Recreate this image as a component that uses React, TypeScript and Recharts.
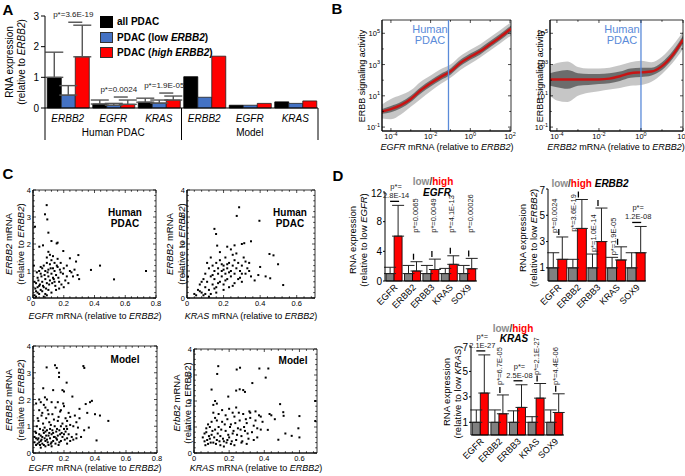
import React from "react";
import {
  Area,
  Bar,
  BarChart,
  ComposedChart,
  ErrorBar,
  LabelList,
  Line,
  ReferenceArea,
  ReferenceLine,
  Scatter,
  ScatterChart,
  XAxis,
  YAxis,
} from "recharts";

const FONT = "'Liberation Sans', Arial, Helvetica, sans-serif";
const BLUE = "#4472c4";
const RED = "#ff0000";
const GRAY = "#808080";
const PDAC_BLUE = "#5b8bd9";
const FIT_RED = "#c81414";

// ---------- A: RNA expression, human vs model ----------
const A_KEYS = ["h-ERBB2", "h-EGFR", "h-KRAS", "m-ERBB2", "m-EGFR", "m-KRAS"];
const A_GENES = ["ERBB2", "EGFR", "KRAS", "ERBB2", "EGFR", "KRAS"];
const A_GROUPS = ["Human PDAC", "Model"];
const A_ALL = [1.0, 0.13, 0.19, 1.02, 0.09, 0.2];
const A_LOW = [0.42, 0.09, 0.16, 0.35, 0.09, 0.15];
const A_HIGH = [1.67, 0.12, 0.26, 1.69, 0.15, 0.23];
const A_ALL_TOP = [1.82, 0.26, 0.32, null, null, null];
const A_LOW_TOP = [0.73, 0.15, 0.26, null, null, null];
const A_HIGH_TOP = [2.7, 0.26, 0.39, null, null, null];
const A_PVALS = ["p*=3.6E-19", "p*=0.0024", "p*=1.9E-05", "", "", ""];
const A_TICKS = [0, 0.5, 1, 1.5, 2, 2.5, 3];

// ---------- B: signaling activity vs mRNA (log10 values) ----------
const B1_X = [-4.45, -4, -3.5, -3, -2.5, -2, -1.5, -1, -0.5, 0, 0.5, 1, 1.5, 2.05];
const B1_FIT = [0.0, 0.15, 0.4, 0.8, 1.35, 1.8, 2.2, 2.55, 3.1, 3.5, 3.85, 4.3, 4.75, 5.3];
const B1_LO = [-0.45, -0.5, -0.2, 0.3, 0.8, 1.3, 1.75, 2.15, 2.65, 3.05, 3.45, 3.9, 4.35, 4.85];
const B1_HI = [0.45, 0.8, 1.05, 1.35, 1.9, 2.3, 2.7, 3.0, 3.55, 3.95, 4.3, 4.75, 5.2, 5.7];
const B1_CORE_LO = [-0.15, -0.05, 0.2, 0.6, 1.15, 1.6, 2.0, 2.35, 2.9, 3.3, 3.65, 4.1, 4.55, 5.1];
const B1_CORE_HI = [0.15, 0.35, 0.6, 1.0, 1.55, 2.0, 2.4, 2.75, 3.3, 3.7, 4.05, 4.5, 4.95, 5.5];
const B1_PDAC = -1.1;

const B2_X = [-4.33, -4, -3.5, -3, -2.5, -2, -1.5, -1, -0.5, 0, 0.5, 1, 1.5, 2.0];
const B2_FIT = [2.05, 2.05, 2.05, 2.05, 2.05, 2.05, 2.1, 2.25, 2.45, 2.5, 2.55, 2.9, 3.6, 4.6];
const B2_LO = [1.0, 0.7, 0.6, 1.0, 1.2, 1.3, 1.4, 1.5, 1.65, 1.7, 1.9, 2.4, 3.1, 4.0];
const B2_HI = [2.9, 3.1, 3.2, 2.85, 2.75, 2.75, 2.8, 2.95, 3.15, 3.25, 3.15, 3.5, 4.2, 5.1];
const B2_CORE_LO = [1.65, 1.55, 1.45, 1.65, 1.7, 1.75, 1.8, 1.95, 2.15, 2.2, 2.3, 2.65, 3.35, 4.35];
const B2_CORE_HI = [2.45, 2.55, 2.65, 2.45, 2.4, 2.4, 2.45, 2.55, 2.75, 2.8, 2.8, 3.15, 3.85, 4.85];
const B2_PDAC = 0;

const B_XTICKS = [-4, -3, -2, -1, 0, 1, 2];
const B_XLABELS = [-4, -2, 0, 2];
const B_YTICKS = [-1, 0, 1, 2, 3, 4, 5];
const B_YLABELS = [-1, 1, 3, 5];

// ---------- C: per-sample scatter ----------
const C_XTICKS_08 = [0, 0.04, 0.08, 0.12, 0.16, 0.2, 0.24, 0.28, 0.32, 0.36, 0.4, 0.44, 0.48, 0.52, 0.56, 0.6, 0.64, 0.68, 0.72, 0.76, 0.8];
const C_XTICKS_07 = [0, 0.04, 0.08, 0.12, 0.16, 0.2, 0.24, 0.28, 0.32, 0.36, 0.4, 0.44, 0.48, 0.52, 0.56, 0.6, 0.64, 0.68];
const C_XLABELS = [0, 0.2, 0.4, 0.6, 0.8];
const C_YTICKS = [0, 0.2, 0.4, 0.6, 0.8, 1, 1.2, 1.4, 1.6, 1.8, 2, 2.2, 2.4, 2.6, 2.8, 3, 3.2, 3.4, 3.6, 3.8, 4];
const C_YLABELS = [0, 1, 2, 3, 4];

const C1_PTS = [
  [0.089, 3.44], [0.078, 3.1], [0.093, 2.91], [0.1, 2.42], [0.013, 2.64], [0.12, 2.11], [0.154, 2.02],
  [0.041, 1.9], [0.197, 1.74], [0.1, 1.71], [0.295, 1.59], [0.24, 1.47], [0.377, 1.04], [0.436, 1.2],
  [0.527, 0.69], [0.735, 1.0], [0.16, 2.05], [0.065, 1.95], [0.28, 1.35], [0.29, 0.85], [0.3, 0.7],
  [0.25, 0.95], [0.22, 0.8], [0.2, 1.1], [0.27, 1.05],
  [0.01, 0.1], [0.02, 0.05], [0.03, 0.2], [0.015, 0.35], [0.04, 0.45], [0.05, 0.3], [0.06, 0.6],
  [0.02, 0.55], [0.07, 0.4], [0.08, 0.7], [0.09, 0.55], [0.1, 0.8], [0.11, 0.65], [0.12, 0.9],
  [0.13, 0.75], [0.14, 1.0], [0.15, 0.85], [0.16, 1.15], [0.17, 0.6], [0.18, 0.95], [0.05, 0.9],
  [0.06, 1.1], [0.07, 1.2], [0.08, 1.0], [0.09, 1.3], [0.1, 1.05], [0.11, 1.25], [0.12, 1.4],
  [0.13, 1.1], [0.14, 1.3], [0.03, 0.75], [0.04, 1.0], [0.05, 1.15], [0.025, 0.95], [0.035, 0.65],
  [0.045, 0.5], [0.055, 0.8], [0.065, 0.45], [0.075, 0.85], [0.085, 0.35], [0.095, 0.95], [0.105, 0.5],
  [0.115, 1.1], [0.125, 0.55], [0.135, 0.7], [0.145, 0.45], [0.155, 1.2], [0.165, 0.75], [0.175, 1.05],
  [0.185, 0.5], [0.195, 0.9], [0.21, 0.65], [0.23, 0.55], [0.26, 0.8], [0.02, 0.25], [0.03, 0.4],
  [0.06, 0.25], [0.08, 0.15], [0.1, 0.3], [0.12, 0.2], [0.15, 0.3], [0.01, 0.6], [0.005, 1.2],
  [0.09, 0.1], [0.17, 0.35], [0.2, 0.4], [0.04, 0.15], [0.07, 0.05], [0.13, 1.55], [0.11, 1.6],
  [0.16, 1.45], [0.09, 1.5], [0.18, 1.3], [0.22, 1.2], [0.24, 1.0], [0.14, 0.6],
];
const C2_PTS = [
  [0.285, 3.36], [0.272, 3.04], [0.396, 2.86], [0.15, 2.56], [0.159, 2.37], [0.35, 2.1], [0.313, 2.03],
  [0.3, 2.0], [0.165, 1.94], [0.22, 1.9], [0.26, 1.95], [0.451, 1.63], [0.473, 1.58], [0.498, 1.25],
  [0.526, 0.48], [0.455, 0.73], [0.39, 0.85], [0.4, 1.15], [0.37, 0.65], [0.43, 0.8], [0.005, 0.79],
  [0.05, 0.1],
  [0.06, 0.3], [0.07, 0.5], [0.08, 0.2], [0.09, 0.7], [0.1, 0.4], [0.1, 0.9], [0.11, 0.6], [0.12, 1.1],
  [0.12, 0.3], [0.13, 0.8], [0.14, 1.2], [0.14, 0.5], [0.15, 1.0], [0.15, 0.7], [0.16, 1.3], [0.16, 0.4],
  [0.17, 0.9], [0.17, 1.1], [0.18, 0.6], [0.18, 1.4], [0.19, 0.8], [0.19, 1.0], [0.2, 1.2], [0.2, 0.5],
  [0.21, 0.9], [0.21, 1.5], [0.22, 0.7], [0.22, 1.1], [0.23, 1.3], [0.23, 0.4], [0.24, 1.0], [0.24, 0.8],
  [0.25, 1.2], [0.25, 1.6], [0.26, 0.9], [0.26, 1.4], [0.27, 1.1], [0.28, 0.7], [0.28, 1.3], [0.29, 1.0],
  [0.3, 1.2], [0.3, 0.6], [0.31, 1.5], [0.32, 0.9], [0.33, 1.1], [0.34, 1.3], [0.35, 0.8], [0.12, 0.05],
  [0.09, 0.1], [0.04, 0.15], [0.13, 0.15], [0.16, 0.2], [0.2, 0.3], [0.11, 1.3], [0.13, 1.5], [0.18, 1.7],
  [0.24, 1.8], [0.27, 1.65], [0.19, 1.25], [0.17, 0.55], [0.15, 0.35], [0.21, 0.65], [0.23, 0.95],
  [0.26, 0.55], [0.29, 0.75], [0.32, 1.35], [0.08, 0.6], [0.07, 0.25], [0.1, 0.15], [0.14, 0.85],
  [0.2, 1.05], [0.25, 0.45], [0.3, 0.9], [0.34, 1.0], [0.22, 1.25],
];
const C3_PTS = [
  [0.088, 3.2], [0.142, 3.28], [0.153, 3.18], [0.168, 3.0], [0.168, 2.84], [0.331, 3.18], [0.325, 3.25],
  [0.217, 2.63], [0.066, 2.42], [0.2, 2.3], [0.13, 2.35], [0.19, 2.35], [0.077, 2.08], [0.254, 2.11],
  [0.34, 1.83], [0.368, 1.9], [0.38, 1.95], [0.486, 1.2], [0.432, 1.4], [0.41, 0.47], [0.3, 1.65],
  [0.35, 1.5], [0.4, 1.45], [0.31, 0.6], [0.33, 0.85], [0.36, 0.95], [0.28, 0.7], [0.3, 1.3],
  [0.28, 0.55], [0.25, 0.6], [0.22, 0.55], [0.02, 1.85], [0.05, 1.9], [0.04, 2.0],
  [0.01, 0.4], [0.02, 0.55], [0.03, 0.35], [0.04, 0.7], [0.05, 0.45], [0.06, 0.6], [0.07, 0.3],
  [0.08, 0.8], [0.09, 0.5], [0.1, 0.65], [0.11, 0.9], [0.12, 0.4], [0.13, 0.75], [0.14, 1.0],
  [0.15, 0.55], [0.16, 1.2], [0.17, 0.85], [0.18, 0.45], [0.19, 1.1], [0.2, 0.7], [0.21, 1.3],
  [0.22, 0.9], [0.23, 1.5], [0.24, 1.05], [0.015, 0.8], [0.025, 1.0], [0.035, 1.2], [0.045, 0.9],
  [0.055, 1.4], [0.065, 1.1], [0.075, 0.95], [0.085, 1.3], [0.095, 1.6], [0.105, 1.15], [0.115, 0.35],
  [0.125, 1.45], [0.135, 0.6], [0.145, 1.7], [0.155, 0.9], [0.165, 0.3], [0.175, 1.55], [0.185, 0.75],
  [0.195, 1.85], [0.205, 0.5], [0.215, 1.0], [0.02, 0.3], [0.03, 0.5], [0.04, 0.4], [0.05, 0.65],
  [0.06, 0.35], [0.07, 0.75], [0.08, 0.45], [0.09, 0.85], [0.1, 0.3], [0.11, 0.55], [0.12, 0.7],
  [0.13, 0.45], [0.14, 0.6], [0.15, 0.8], [0.16, 0.65], [0.17, 0.4], [0.18, 1.0], [0.19, 0.6],
  [0.2, 0.9], [0.21, 0.8], [0.22, 1.2], [0.23, 0.7], [0.24, 1.35], [0.26, 1.0], [0.27, 1.4],
  [0.28, 1.15], [0.29, 0.95], [0.01, 0.6], [0.02, 0.75], [0.035, 0.55], [0.045, 0.3], [0.055, 0.5],
  [0.065, 0.85], [0.075, 0.55], [0.085, 0.65], [0.095, 0.4], [0.105, 0.75], [0.115, 1.05], [0.125, 0.85],
  [0.135, 1.25], [0.145, 0.35], [0.155, 0.5], [0.165, 1.35], [0.175, 0.7], [0.06, 1.5], [0.08, 1.7],
  [0.1, 1.45], [0.12, 1.9], [0.03, 1.3], [0.04, 1.6], [0.07, 1.8], [0.09, 2.0], [0.16, 1.9],
  [0.18, 1.6], [0.2, 1.75], [0.22, 0.35], [0.24, 0.45], [0.26, 0.5], [0.12, 0.25], [0.08, 0.25],
  [0.05, 0.2],
];
const C4_PTS = [
  [0.138, 3.34], [0.132, 3.04], [0.243, 3.21], [0.262, 3.28], [0.372, 3.25], [0.423, 3.25], [0.408, 2.9],
  [0.332, 2.69], [0.24, 2.4], [0.26, 2.45], [0.28, 2.42], [0.1, 2.44], [0.195, 2.17], [0.49, 1.88],
  [0.508, 1.57], [0.51, 1.43], [0.6, 1.42], [0.594, 0.95], [0.556, 0.66], [0.69, 1.23], [0.43, 1.5],
  [0.44, 1.45], [0.42, 0.89], [0.48, 0.51], [0.12, 2.0], [0.13, 1.9], [0.11, 1.85], [0.29, 2.35],
  [0.46, 1.3], [0.38, 1.4], [0.35, 1.6], [0.32, 1.55], [0.52, 0.75], [0.6, 0.6], [0.69, 2.0],
  [0.05, 0.6], [0.06, 0.45], [0.07, 0.8], [0.08, 0.35], [0.09, 0.55], [0.1, 0.7], [0.11, 0.4],
  [0.12, 0.9], [0.13, 0.5], [0.14, 1.0], [0.15, 0.65], [0.16, 1.2], [0.17, 0.45], [0.18, 0.85],
  [0.19, 1.3], [0.2, 0.6], [0.21, 1.1], [0.22, 0.75], [0.23, 1.4], [0.24, 0.5], [0.25, 0.95],
  [0.26, 1.25], [0.27, 0.65], [0.28, 1.5], [0.29, 0.85], [0.3, 1.15], [0.31, 0.55], [0.32, 1.35],
  [0.33, 0.8], [0.34, 1.05], [0.35, 1.25], [0.36, 0.6], [0.37, 1.45], [0.38, 0.9], [0.065, 0.3],
  [0.075, 0.5], [0.085, 0.65], [0.095, 0.4], [0.105, 0.85], [0.115, 0.6], [0.125, 0.35], [0.135, 0.75],
  [0.145, 0.45], [0.155, 0.9], [0.165, 0.55], [0.175, 1.1], [0.185, 0.4], [0.195, 0.7], [0.205, 1.0],
  [0.215, 0.45], [0.225, 0.85], [0.235, 1.15], [0.245, 0.7], [0.255, 1.55], [0.265, 0.9], [0.275, 0.45],
  [0.285, 1.0], [0.295, 1.3], [0.305, 0.75], [0.315, 1.6], [0.1, 1.2], [0.12, 1.35], [0.14, 1.5],
  [0.16, 1.65], [0.18, 1.45], [0.2, 1.7], [0.22, 1.55], [0.24, 1.75], [0.09, 1.0], [0.11, 1.55],
  [0.13, 1.25], [0.15, 0.3], [0.17, 0.25], [0.19, 0.5], [0.21, 0.35], [0.23, 0.3], [0.27, 0.4],
  [0.3, 0.35], [0.34, 0.5], [0.36, 0.95], [0.39, 1.2], [0.07, 0.95], [0.06, 0.75], [0.08, 1.1],
];

// ---------- D: low/high groups ----------
const D_CATS = ["EGFR", "ERBB2", "ERBB3", "KRAS", "SOX9"];

const D1_GRAY = [1, 1, 1, 1, 1];
const D1_GRAY_TOP = [1.85, 2.1, 2.1, 1.7, 2.1];
const D1_RED = [6.05, 1.35, 1.55, 2.25, 1.65];
const D1_RED_TOP = [10.2, 2.6, 2.95, 3.4, 3.05];
const D1_P = ["p*=|2.8E-14", "p*=0.0065", "p*=0.0049", "p*=4.1E-13", "p*=0.00026"];
const D1_KIND = ["h", "v", "v", "v", "v"];
const D1_AT = [0, 6.5, 6.5, 6.5, 6.5];

const D2_GRAY = [1, 1, 1, 1, 1];
const D2_GRAY_TOP = [2.15, 1.65, 2.05, 1.8, 2.15];
const D2_RED = [1.65, 4.0, 3.0, 1.6, 2.15];
const D2_RED_TOP = [3.35, 6.2, 5.55, 2.6, 4.15];
const D2_P = ["p*=0.0024", "p*=3.6E-19", "p*=1.0E-14", "p*=1.9E-05", "p*=|1.2E-08"];
const D2_KIND = ["v", "v", "v", "v", "h"];
const D2_AT = [3.66, 3.74, 2.2, 1.95, 0];

const D3_GRAY = [1, 1, 1, 1, 1];
const D3_GRAY_TOP = [1.97, 1.97, 1.9, 1.44, 1.97];
const D3_RED = [3.3, 1.67, 2.17, 2.9, 1.77];
const D3_RED_TOP = [6.3, 3.15, 3.95, 4.05, 3.24];
const D3_P = ["p*=|2.1E-27", "p*=6.7E-05", "p*=|2.5E-08", "p*=2.1E-27", "p*=4.4E-06"];
const D3_KIND = ["h", "v", "h", "v", "v"];
const D3_AT = [0, 3.94, 0, 4.72, 3.94];

// ---------- helpers ----------
type TProps = {
  x: number;
  y: number;
  size?: number;
  bold?: boolean;
  italic?: boolean;
  color?: string;
  rot?: boolean;
  align?: "left" | "center" | "right";
  children: React.ReactNode;
};

function T({ x, y, size = 10, bold, italic, color = "#000", rot, align = "center", children }: TProps) {
  const tx = align === "center" ? "-50%" : align === "right" ? "-100%" : "0";
  return (
    <div
      style={{
        position: "absolute",
        left: x,
        top: y,
        transform: `translate(${tx}, -50%)${rot ? " rotate(-90deg)" : ""}`,
        fontSize: size,
        fontWeight: bold ? 700 : 400,
        fontStyle: italic ? "italic" : "normal",
        color,
        whiteSpace: "nowrap",
        lineHeight: 1,
      }}
    >
      {children}
    </div>
  );
}

function Pos({ left, top, children }: { left: number; top: number; children: React.ReactNode }) {
  return <div style={{ position: "absolute", left, top }}>{children}</div>;
}

function labelBox(p: any) {
  const vb = p.viewBox ?? {};
  return {
    x: p.x ?? vb.x,
    y: p.y ?? vb.y,
    width: p.width ?? vb.width,
    height: p.height ?? vb.height,
    index: p.index,
    value: Number(p.value),
  };
}

const isIn = (v: number, list: number[]) => list.some((m) => Math.abs(m - v) < 1e-9);

// inward ticks on both opposite edges of a boxed plot, label only on majors
function BoxTickX(props: any) {
  const { x, y, payload, span, majors, log } = props;
  const v = payload.value;
  const major = isIn(v, majors);
  const len = major ? 3 : 1.8;
  return (
    <g>
      <line x1={x} x2={x} y1={y} y2={y - len} stroke="#000" strokeWidth={0.7} />
      <line x1={x} x2={x} y1={y - span} y2={y - span + len} stroke="#000" strokeWidth={0.7} />
      {major &&
        (log ? (
          <text x={x} y={y + 8} textAnchor="middle" fontSize={7.5} fontFamily={FONT} fill="#000">
            <tspan>10</tspan>
            <tspan dy={-3.5} fontSize={5.5}>
              {v}
            </tspan>
          </text>
        ) : (
          <text x={x} y={y + 8} textAnchor="middle" fontSize={7.5} fontFamily={FONT} fill="#000">
            {v}
          </text>
        ))}
    </g>
  );
}

function BoxTickY(props: any) {
  const { x, y, payload, span, majors, log } = props;
  const v = payload.value;
  const major = isIn(v, majors);
  const len = major ? 3 : 1.8;
  return (
    <g>
      <line x1={x} x2={x + len} y1={y} y2={y} stroke="#000" strokeWidth={0.7} />
      <line x1={x + span} x2={x + span - len} y1={y} y2={y} stroke="#000" strokeWidth={0.7} />
      {major &&
        (log ? (
          <text x={x - 2} y={y + 3} textAnchor="end" fontSize={7.5} fontFamily={FONT} fill="#000">
            <tspan>10</tspan>
            <tspan dy={-3.5} fontSize={5.5}>
              {v}
            </tspan>
          </text>
        ) : (
          <text x={x - 2} y={y + 3} textAnchor="end" fontSize={7.5} fontFamily={FONT} fill="#000">
            {v}
          </text>
        ))}
    </g>
  );
}

// ---------- panel A ----------
function ATick(props: any) {
  const { x, y, payload } = props;
  const i = typeof props.index === "number" ? props.index : payload.index;
  const half = payload?.offset ?? 22.75;
  const seps: number[] = [];
  if (i === 0 || i === 3) seps.push(x - half);
  if (i === 5) seps.push(x + half);
  return (
    <g fontFamily={FONT}>
      <text x={x} y={y + 14} textAnchor="middle" fontSize={10} fontStyle="italic" fill="#000">
        {A_GENES[i]}
      </text>
      {(i === 1 || i === 4) && (
        <text x={x} y={y + 28} textAnchor="middle" fontSize={10} fill="#000">
          {A_GROUPS[i === 1 ? 0 : 1]}
        </text>
      )}
      {seps.map((sx) => (
        <line key={sx} x1={sx} x2={sx} y1={y} y2={y + 32} stroke="#000" strokeWidth={1} />
      ))}
    </g>
  );
}

function aPval(p: any) {
  const { x, y, width, height, index, value } = labelBox(p);
  const txt = A_PVALS[index];
  if (!txt || !value) return null;
  const ppu = height / value;
  const base = y + height;
  const top = Math.max(A_LOW_TOP[index] ?? 0, A_HIGH_TOP[index] ?? 0);
  const ly = base - top * ppu - 3;
  return (
    <g>
      <line x1={x - width / 2} x2={x + width / 2} y1={ly} y2={ly} stroke="#333" strokeWidth={1.2} />
      <text x={x - 2} y={ly - 5} textAnchor="middle" fontSize={8} fontFamily={FONT} fill="#222">
        {txt}
      </text>
    </g>
  );
}

function PanelA() {
  const err = (top: number | null, v: number) => (top == null ? null : [0, top - v]);
  const data = A_KEYS.map((k, i) => ({
    key: k,
    all: A_ALL[i],
    low: A_LOW[i],
    high: A_HIGH[i],
    allErr: err(A_ALL_TOP[i], A_ALL[i]),
    lowErr: err(A_LOW_TOP[i], A_LOW[i]),
    highErr: err(A_HIGH_TOP[i], A_HIGH[i]),
  }));
  return (
    <Pos left={0} top={0}>
      <BarChart
        width={322}
        height={144}
        data={data}
        margin={{ top: 16, right: 4, left: 0, bottom: 0 }}
        barGap={0}
        barCategoryGap="5%"
      >
        <XAxis
          dataKey="key"
          interval={0}
          tickLine={false}
          tickSize={0}
          tickMargin={0}
          height={36}
          axisLine={{ stroke: "#000" }}
          tick={<ATick />}
        />
        <YAxis
          domain={[0, 3]}
          ticks={A_TICKS}
          width={45}
          tickSize={4}
          tick={{ fontSize: 10, fill: "#000", fontFamily: FONT }}
          axisLine={{ stroke: "#000" }}
          tickLine={{ stroke: "#000" }}
        />
        <Bar dataKey="all" fill="#000" stroke="#000" strokeWidth={0.8} isAnimationActive={false}>
          <ErrorBar dataKey="allErr" width={9} stroke="#555" strokeWidth={1.4} direction="y" />
        </Bar>
        <Bar dataKey="low" fill={BLUE} stroke="#222" strokeWidth={0.8} isAnimationActive={false}>
          <ErrorBar dataKey="lowErr" width={9} stroke="#555" strokeWidth={1.4} direction="y" />
        </Bar>
        <Bar dataKey="high" fill={RED} stroke="#222" strokeWidth={0.8} isAnimationActive={false}>
          <ErrorBar dataKey="highErr" width={9} stroke="#555" strokeWidth={1.4} direction="y" />
          <LabelList dataKey="high" content={aPval} />
        </Bar>
      </BarChart>
    </Pos>
  );
}

// ---------- panel B ----------
function PanelBPlot(props: {
  left: number;
  width: number;
  xs: number[];
  fit: number[];
  lo: number[];
  hi: number[];
  coreLo: number[];
  coreHi: number[];
  pdac: number;
}) {
  const { xs, fit, lo, hi, coreLo, coreHi, pdac } = props;
  const data = xs.map((x, i) => ({
    x,
    band: [lo[i], hi[i]],
    core: [coreLo[i], coreHi[i]],
    fit: fit[i],
  }));
  const xDom: [number, number] = [xs[0], xs[xs.length - 1]];
  const yDom: [number, number] = [-1.25, 5.85];
  const H = 145;
  const top = 20;
  const xH = 14;
  const yW = 22;
  const right = 2;
  return (
    <Pos left={props.left} top={0}>
      <ComposedChart width={props.width} height={H} data={data} margin={{ top, right, left: 0, bottom: 0 }}>
        <XAxis
          type="number"
          dataKey="x"
          domain={xDom}
          ticks={B_XTICKS}
          interval={0}
          allowDataOverflow
          height={xH}
          tickSize={0}
          tickMargin={0}
          tickLine={false}
          axisLine={{ stroke: "#000" }}
          tick={<BoxTickX span={H - top - xH} majors={B_XLABELS} log />}
        />
        <YAxis
          type="number"
          domain={yDom}
          ticks={B_YTICKS}
          interval={0}
          allowDataOverflow
          width={yW}
          tickSize={0}
          tickMargin={0}
          tickLine={false}
          axisLine={{ stroke: "#000" }}
          tick={<BoxTickY span={props.width - yW - right} majors={B_YLABELS} log />}
        />
        <Area
          dataKey="band"
          type="monotone"
          stroke="none"
          fill="#a8a8a8"
          fillOpacity={0.65}
          isAnimationActive={false}
        />
        <Area
          dataKey="core"
          type="monotone"
          stroke="none"
          fill="#3c3c3c"
          fillOpacity={0.65}
          isAnimationActive={false}
        />
        <Line
          dataKey="fit"
          type="monotone"
          stroke={FIT_RED}
          strokeWidth={2.5}
          dot={false}
          isAnimationActive={false}
        />
        <ReferenceLine x={pdac} stroke={PDAC_BLUE} strokeWidth={1.3} />
        <ReferenceArea
          x1={xDom[0]}
          x2={xDom[1]}
          y1={yDom[0]}
          y2={yDom[1]}
          fill="none"
          stroke="#000"
          strokeWidth={0.8}
        />
      </ComposedChart>
    </Pos>
  );
}

// ---------- panel C ----------
function Dot(p: any) {
  if (p.cx == null || p.cy == null) return null;
  return <rect x={p.cx - 1} y={p.cy - 1} width={2} height={2} fill="#000" />;
}

function Scatterbox(props: {
  left: number;
  top: number;
  width: number;
  height: number;
  pts: number[][];
  xMax: number;
  xTicks: number[];
}) {
  const data = props.pts.map(([x, y]) => ({ x, y }));
  const top = 4;
  const right = 4;
  const xH = 10;
  const yW = 13;
  return (
    <Pos left={props.left} top={props.top}>
      <ScatterChart width={props.width} height={props.height} margin={{ top, right, left: 0, bottom: 0 }}>
        <XAxis
          type="number"
          dataKey="x"
          domain={[0, props.xMax]}
          ticks={props.xTicks}
          interval={0}
          allowDataOverflow
          height={xH}
          tickSize={0}
          tickMargin={0}
          tickLine={false}
          axisLine={{ stroke: "#000" }}
          tick={<BoxTickX span={props.height - top - xH} majors={C_XLABELS} />}
        />
        <YAxis
          type="number"
          dataKey="y"
          domain={[0, 4]}
          ticks={C_YTICKS}
          interval={0}
          allowDataOverflow
          width={yW}
          tickSize={0}
          tickMargin={0}
          tickLine={false}
          axisLine={{ stroke: "#000" }}
          tick={<BoxTickY span={props.width - yW - right} majors={C_YLABELS} />}
        />
        <Scatter data={data} shape={<Dot />} isAnimationActive={false} />
        <ReferenceArea x1={0} x2={props.xMax} y1={0} y2={4} fill="none" stroke="#000" strokeWidth={0.8} />
      </ScatterChart>
    </Pos>
  );
}

// ---------- panel D ----------
function RotTick(props: any) {
  const { x, y, payload } = props;
  const ax = x + 4;
  const ay = y + 7;
  return (
    <text
      x={ax}
      y={ay}
      transform={`rotate(-45 ${ax} ${ay})`}
      textAnchor="end"
      fontSize={9}
      fontFamily={FONT}
      fill="#000"
    >
      {payload.value}
    </text>
  );
}

function DPlot(props: {
  left: number;
  top: number;
  width: number;
  height: number;
  yMax: number;
  yTicks: number[];
  yWidth: number;
  gap: string;
  textDx: number;
  gray: number[];
  grayTop: number[];
  red: number[];
  redTop: number[];
  pText: string[];
  pKind: string[];
  pAt: number[];
}) {
  const data = D_CATS.map((c, i) => ({
    cat: c,
    g: props.gray[i],
    r: props.red[i],
    gErr: [0, props.grayTop[i] - props.gray[i]],
    rErr: [0, props.redTop[i] - props.red[i]],
  }));
  const ann = (p: any) => {
    const { x, y, height, index, value } = labelBox(p);
    if (!value) return null;
    const ppu = height / value;
    const base = y + height;
    const errPx = base - props.redTop[index] * ppu;
    const txt = props.pText[index];
    if (props.pKind[index] === "h") {
      const [a, b] = txt.split("|");
      const ly = errPx - 4;
      return (
        <g fontFamily={FONT} fill="#222">
          <line x1={x - 4} x2={x + 5} y1={ly} y2={ly} stroke="#000" strokeWidth={1.3} />
          <text x={x + 2} y={ly - 3} textAnchor="middle" fontSize={7.5}>
            {b}
          </text>
          <text x={x + 2} y={ly - 12} textAnchor="middle" fontSize={7.5}>
            {a}
          </text>
        </g>
      );
    }
    const bottom = base - props.pAt[index] * ppu;
    return (
      <g fontFamily={FONT} fill="#222">
        <line x1={x + 1} x2={x + 1} y1={errPx - 8} y2={errPx - 2} stroke="#000" strokeWidth={1.3} />
        <text
          transform={`translate(${x + props.textDx},${bottom}) rotate(-90)`}
          textAnchor="start"
          fontSize={7.5}
        >
          {txt}
        </text>
      </g>
    );
  };
  return (
    <Pos left={props.left} top={props.top}>
      <BarChart
        width={props.width}
        height={props.height}
        data={data}
        margin={{ top: 4, right: 2, left: 0, bottom: 0 }}
        barGap={0}
        barCategoryGap={props.gap}
      >
        <XAxis
          dataKey="cat"
          interval={0}
          tickLine={false}
          tickSize={0}
          tickMargin={0}
          height={34}
          axisLine={{ stroke: "#000" }}
          tick={<RotTick />}
        />
        <YAxis
          domain={[0, props.yMax]}
          ticks={props.yTicks}
          width={props.yWidth}
          tickSize={2}
          tickMargin={1}
          tick={{ fontSize: 10, fill: "#000", fontFamily: FONT }}
          axisLine={{ stroke: "#000" }}
          tickLine={{ stroke: "#000" }}
        />
        <Bar dataKey="g" fill={GRAY} stroke="#000" strokeWidth={0.8} isAnimationActive={false}>
          <ErrorBar dataKey="gErr" width={6} stroke="#222" strokeWidth={1} direction="y" />
        </Bar>
        <Bar dataKey="r" fill={RED} stroke="#000" strokeWidth={0.8} isAnimationActive={false}>
          <ErrorBar dataKey="rErr" width={6} stroke="#222" strokeWidth={1} direction="y" />
          <LabelList dataKey="r" content={ann} />
        </Bar>
      </BarChart>
    </Pos>
  );
}

function LowHigh({ x, y, gene }: { x: number; y: number; gene?: string }) {
  return (
    <T x={x} y={y} bold size={10}>
      <span style={{ color: "#8c8c8c" }}>low</span>
      <span style={{ color: "#444" }}>/</span>
      <span style={{ color: RED }}>high</span>
      {gene && (
        <span>
          {" "}
          <i>{gene}</i>
        </span>
      )}
    </T>
  );
}

export default function App() {
  return (
    <div
      style={{
        position: "absolute",
        left: 0,
        top: 0,
        width: 685,
        height: 476,
        background: "#fff",
        fontFamily: FONT,
        overflow: "hidden",
      }}
    >
      <style>{`.recharts-surface { overflow: visible; }`}</style>
      {/* panel letters */}
      <T x={8} y={9} size={15} bold>A</T>
      <T x={337} y={8} size={15} bold>B</T>
      <T x={8} y={173} size={15} bold>C</T>
      <T x={338} y={175} size={15} bold>D</T>

      {/* A */}
      <PanelA />
      <T x={10} y={62} rot>RNA expression</T>
      <T x={22} y={62} rot>
        (relative to <i>ERBB2</i>)
      </T>
      <div style={{ position: "absolute", left: 100, top: 16, width: 13, height: 12, background: "#000" }} />
      <div style={{ position: "absolute", left: 100, top: 32, width: 13, height: 11, background: BLUE, boxSizing: "border-box", border: "1px solid #333" }} />
      <div style={{ position: "absolute", left: 100, top: 47, width: 13, height: 11, background: RED, boxSizing: "border-box", border: "1px solid #333" }} />
      <T x={117} y={22} bold align="left">all PDAC</T>
      <T x={117} y={38} bold align="left">
        PDAC (low <i>ERBB2</i>)
      </T>
      <T x={117} y={53} bold align="left">
        PDAC (<i>high ERBB2</i>)
      </T>

      {/* B */}
      <PanelBPlot
        left={360}
        width={153}
        xs={B1_X}
        fit={B1_FIT}
        lo={B1_LO}
        hi={B1_HI}
        coreLo={B1_CORE_LO}
        coreHi={B1_CORE_HI}
        pdac={B1_PDAC}
      />
      <PanelBPlot
        left={528}
        width={157}
        xs={B2_X}
        fit={B2_FIT}
        lo={B2_LO}
        hi={B2_HI}
        coreLo={B2_CORE_LO}
        coreHi={B2_CORE_HI}
        pdac={B2_PDAC}
      />
      <T x={362} y={76} size={9} rot>ERBB signaling activity</T>
      <T x={540} y={76} size={9} rot>ERBB signaling activity</T>
      <T x={447} y={147} size={9}>
        <i>EGFR</i> mRNA (relative to <i>ERBB2</i>)
      </T>
      <T x={616} y={147} size={9}>
        <i>ERBB2</i> mRNA (relative to <i>ERBB2</i>)
      </T>
      <T x={430} y={29} size={11} color={PDAC_BLUE}>Human</T>
      <T x={430} y={40} size={11} color={PDAC_BLUE}>PDAC</T>
      <T x={622} y={29} size={11} color={PDAC_BLUE}>Human</T>
      <T x={622} y={40} size={11} color={PDAC_BLUE}>PDAC</T>

      {/* C */}
      <Scatterbox left={20} top={186} width={140} height={122} pts={C1_PTS} xMax={0.8} xTicks={C_XTICKS_08} />
      <Scatterbox left={174} top={186} width={145} height={122} pts={C2_PTS} xMax={0.7} xTicks={C_XTICKS_07} />
      <Scatterbox left={20} top={342} width={141} height={121} pts={C3_PTS} xMax={0.8} xTicks={C_XTICKS_08} />
      <Scatterbox left={181} top={345} width={140} height={118} pts={C4_PTS} xMax={0.7} xTicks={C_XTICKS_07} />
      <T x={9} y={244} size={9.5} rot>
        <i>ERBB2</i> mRNA
      </T>
      <T x={21} y={244} size={9.5} rot>
        (relative to <i>ERBB2</i>)
      </T>
      <T x={170} y={244} size={9.5} rot>
        <i>ERBB2</i> mRNA
      </T>
      <T x={182} y={244} size={9.5} rot>
        (relative to <i>ERBB2</i>)
      </T>
      <T x={9} y={400} size={9.5} rot>
        <i>ERBB2</i> mRNA
      </T>
      <T x={21} y={400} size={9.5} rot>
        (relative to <i>ERBB2</i>)
      </T>
      <T x={177} y={403} size={9.5} rot>
        <i>ErbB2</i> mRNA
      </T>
      <T x={188} y={403} size={9.5} rot>
        (relative to ERBB2)
      </T>
      <T x={95} y={316} size={9}>
        <i>EGFR</i> mRNA (relative to <i>ERBB2</i>)
      </T>
      <T x={251} y={316} size={9}>
        <i>KRAS</i> mRNA (relative to <i>ERBB2</i>)
      </T>
      <T x={95} y={468} size={9}>
        <i>EGFR</i> mRNA (relative to <i>ERBB2</i>)
      </T>
      <T x={256} y={468} size={9}>
        <i>KRAS</i> mRNA (relative to <i>ERBB2</i>)
      </T>
      <T x={125} y={213} bold>Human</T>
      <T x={125} y={224} bold>PDAC</T>
      <T x={290} y={213} bold>Human</T>
      <T x={290} y={224} bold>PDAC</T>
      <T x={125} y={360} bold>Model</T>
      <T x={293} y={361} bold>Model</T>

      {/* D */}
      <DPlot
        left={365}
        top={188}
        width={114}
        height={127}
        yMax={12}
        yTicks={[0, 2, 4, 6, 8, 10, 12]}
        yWidth={20}
        gap="6%"
        textDx={5}
        gray={D1_GRAY}
        grayTop={D1_GRAY_TOP}
        red={D1_RED}
        redTop={D1_RED_TOP}
        pText={D1_P}
        pKind={D1_KIND}
        pAt={D1_AT}
      />
      <DPlot
        left={534}
        top={185}
        width={114}
        height={130}
        yMax={7}
        yTicks={[0, 1, 2, 3, 4, 5, 6, 7]}
        yWidth={14}
        gap="4%"
        textDx={-1}
        gray={D2_GRAY}
        grayTop={D2_GRAY_TOP}
        red={D2_RED}
        redTop={D2_RED_TOP}
        pText={D2_P}
        pKind={D2_KIND}
        pAt={D2_AT}
      />
      <DPlot
        left={457}
        top={342}
        width={109}
        height={127}
        yMax={7}
        yTicks={[0, 1, 2, 3, 4, 5, 6, 7]}
        yWidth={14}
        gap="7%"
        textDx={3}
        gray={D3_GRAY}
        grayTop={D3_GRAY_TOP}
        red={D3_RED}
        redTop={D3_RED_TOP}
        pText={D3_P}
        pKind={D3_KIND}
        pAt={D3_AT}
      />
      <LowHigh x={433} y={182} />
      <T x={437} y={193} bold italic>EGFR</T>
      <LowHigh x={590} y={184} gene="ERBB2" />
      <LowHigh x={513} y={329} />
      <T x={514} y={339} bold italic>KRAS</T>
      <T x={353} y={240} size={9.5} rot>RNA expression</T>
      <T x={364} y={240} size={9.5} rot>
        (relative to low <i>EGFR</i>)
      </T>
      <T x={523} y={238} size={9.5} rot>RNA expression</T>
      <T x={534} y={238} size={9.5} rot>
        (relative to low <i>ERBB2</i>)
      </T>
      <T x={447} y={392} size={9.5} rot>RNA expression</T>
      <T x={458} y={392} size={9.5} rot>
        (relative to low <i>KRAS</i>)
      </T>
    </div>
  );
}
